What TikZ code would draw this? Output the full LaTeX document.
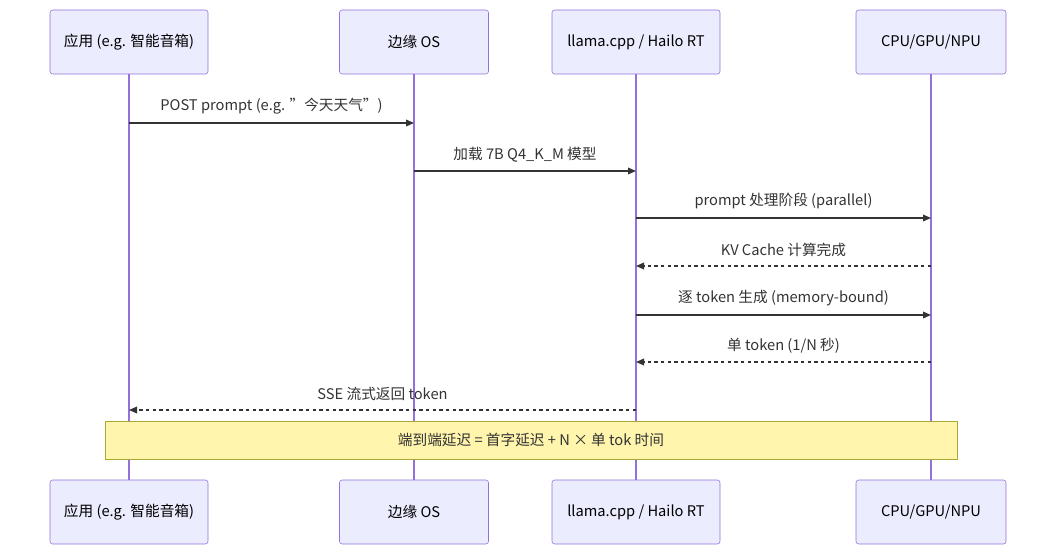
\documentclass[tikz,border=0pt]{standalone}
\usepackage{fontspec}
\setmainfont{Noto Sans CJK SC}
\usetikzlibrary{positioning,arrows.meta}
\definecolor{actfill}{HTML}{ECECFF}
\definecolor{actline}{HTML}{9370DB}
\definecolor{msgc}{HTML}{333333}
\definecolor{notefill}{HTML}{FFF5AD}
\definecolor{noteline}{HTML}{AAAA33}
\begin{document}
\begin{tikzpicture}[x=0.75pt, y=-0.75pt, font=\fontsize{11}{13}\selectfont,
    actor/.style={rectangle, draw=actline, fill=actfill, rounded corners=2pt, minimum height=48pt, text=black},
    life/.style={draw=actline, line width=1.5pt},
    msg/.style={draw=msgc, line width=0.9pt, -{Triangle[length=6pt,width=5pt]}},
    reply/.style={msg, dashed, dash pattern=on 2.5pt off 2.5pt},
    lbl/.style={above=3pt, text=msgc, fill=none}]

    \useasboundingbox (0,0) rectangle (1057,556);

    % actors
    \node[actor, minimum width=118.5pt] (app) at (129,42) {应用 (e.g. 智能音箱)};
    \node[actor, minimum width=111.75pt] (os) at (414,42) {边缘 OS};
    \node[actor, minimum width=126pt] (rt) at (636,42) {llama.cpp / Hailo RT};
    \node[actor, minimum width=112.5pt] (hw) at (931,42) {CPU/GPU/NPU};
    \node[actor, minimum width=118.5pt] (appb) at (129,512) {应用 (e.g. 智能音箱)};
    \node[actor, minimum width=111.75pt] (osb) at (414,512) {边缘 OS};
    \node[actor, minimum width=126pt] (rtb) at (636,512) {llama.cpp / Hailo RT};
    \node[actor, minimum width=112.5pt] (hwb) at (931,512) {CPU/GPU/NPU};

    % lifelines
    \draw[life] (app) -- (appb);
    \draw[life] (os) -- (osb);
    \draw[life] (rt) -- (rtb);
    \draw[life] (hw) -- (hwb);

    % message rows
    \coordinate (m1) at (0,123);
    \coordinate (m2) at (0,171);
    \coordinate (m3) at (0,218);
    \coordinate (m4) at (0,266);
    \coordinate (m5) at (0,315);
    \coordinate (m6) at (0,362);
    \coordinate (m7) at (0,410);

    \draw[msg] (app |- m1) -- node[lbl] {POST prompt (e.g. "今天天气")} (os |- m1);
    \draw[msg] (os |- m2) -- node[lbl] {加载 7B Q4\_K\_M 模型} (rt |- m2);
    \draw[msg] (rt |- m3) -- node[lbl] {prompt 处理阶段 (parallel)} (hw |- m3);
    \draw[reply] (hw |- m4) -- node[lbl] {KV Cache 计算完成} (rt |- m4);
    \draw[msg] (rt |- m5) -- node[lbl] {逐 token 生成 (memory-bound)} (hw |- m5);
    \draw[reply] (hw |- m6) -- node[lbl] {单 token (1/N 秒)} (rt |- m6);
    \draw[reply] (rt |- m7) -- node[lbl] {SSE 流式返回 token} (app |- m7);

    % note
    \node[draw=noteline, fill=notefill, minimum width=639pt, minimum height=28.5pt, inner sep=0pt, text=msgc] (note) at (531,440) {端到端延迟 = 首字延迟 + N × 单 tok 时间};

  \end{tikzpicture}
\end{document}
